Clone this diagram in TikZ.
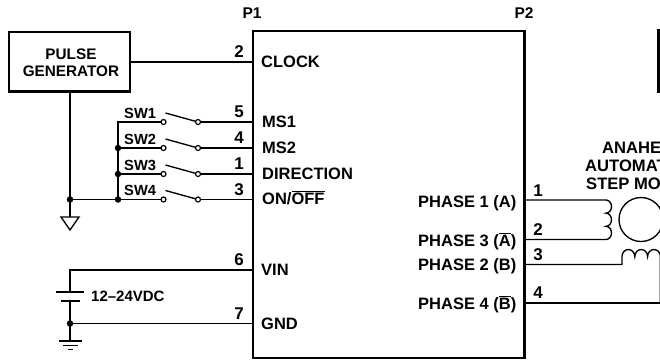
\documentclass[tikz,border=0pt]{standalone}
\usepackage{fontspec}
\setmainfont{Liberation Sans}
\newcommand{\ovl}[1]{$\overline{\hbox{#1}}$}
\begin{document}
\begin{tikzpicture}[x=1pt,y=-1pt,
  wire/.style={line width=1.35pt},
  heavy/.style={draw,line width=2.6pt,outer sep=0pt,inner sep=0pt},
  lab/.style={font=\bfseries\fontsize{16.5}{18}\selectfont,inner sep=0pt,anchor=base west},
  labr/.style={font=\bfseries\fontsize{16.5}{18}\selectfont,inner sep=0pt,anchor=base east},
  motl/.style={font=\bfseries\fontsize{16.6}{18}\selectfont,inner sep=0pt,anchor=base west},
  pin/.style={font=\bfseries\fontsize{17}{19}\selectfont,inner sep=0pt,anchor=base},
  ptl/.style={font=\bfseries\fontsize{15.5}{17}\selectfont,inner sep=0pt,anchor=base},
  swl/.style={font=\bfseries\fontsize{14.7}{16}\selectfont,inner sep=0pt,anchor=base west},
  jdot/.style={circle,fill=black,draw=none,minimum size=6.5pt,inner sep=0pt},
  contact/.style={circle,fill=white,draw=black,line width=1.2pt,minimum size=5pt,inner sep=0pt,outer sep=0pt}]
\useasboundingbox (0,0) rectangle (660,360);
\clip (0,0) rectangle (660,360);
% blocks
\node[heavy,minimum width=121pt,minimum height=59.5pt] (gen) at (69.5,61.75) {};
\node[font=\bfseries\fontsize{15.3}{16.7}\selectfont,align=center,inner sep=0pt] (gentxt) at (71,63) {PULSE\\GENERATOR};
\node[heavy,minimum width=271.5pt,minimum height=327pt] (drv) at (388.75,194.5) {};
\node[ptl] (p1) at (252,18) {P1};
\node[ptl] (p2) at (524,18) {P2};
% switch section
\coordinate (clkR) at (gen.east |- 0,62);
\draw[wire] (clkR) -- (drv.west |- clkR);
\foreach \n/\y in {a/122,b/148,c/174,d/199.5}{
  \coordinate (r\n) at (drv.west |- 0,\y);
  \node[contact] (m\n) at (198,\y) {};
  \node[contact] (l\n) at (163.5,\y) {};
  \coordinate (bus\n) at (118,\y);
  \draw[wire] (l\n) -- (bus\n);
  \draw[wire] (m\n) -- (r\n);
  \coordinate (bl\n) at (165.5,\y-9);
  \draw[wire] (bl\n) -- (m\n);
}
\draw[wire] (busa) ++(0,-0.6) -- (busd);
\coordinate (gj) at (70,199.5);
\coordinate (gt) at (70,217);
\draw[wire] (gen.south -| gj) -- (gt);
\draw[wire] (gj) -- (busd);
\node[jdot] (d1) at (busb) {};
\node[jdot] (d2) at (busc) {};
\node[jdot] (d3) at (busd) {};
\node[jdot] (d4) at (gj) {};
\coordinate (t1) at (61,217); \coordinate (t2) at (79,217); \coordinate (t3) at (70,230);
\draw[wire] (t1) -- (t2) -- (t3) -- cycle;
% pin numbers, left
\node[pin] (n2) at (239,57) {2};
\node[pin] (n5) at (239,117.5) {5};
\node[pin] (n4) at (239,143.5) {4};
\node[pin] (n1) at (239,169) {1};
\node[pin] (n3) at (239,195) {3};
\node[pin] (n6) at (239,265.5) {6};
\node[pin] (n7) at (239,319) {7};
\node[swl] (sa) at (124,118) {SW1};
\node[swl] (sb) at (124,144) {SW2};
\node[swl] (sc) at (124,170) {SW3};
\node[swl] (sd) at (124,195) {SW4};
% inside left
\node[lab] (tclk) at (261,67.5) {CLOCK};
\node[lab] (tms1) at (262,127.5) {MS1};
\node[lab] (tms2) at (262,153.5) {MS2};
\node[lab] (tdir) at (262,179) {DIRECTION};
\node[lab] (ton) at (262,204.5) {ON/\ovl{OFF}};
\node[lab] (tvin) at (261,275.5) {VIN};
\node[lab] (tgnd) at (261,329) {GND};
% inside right
\node[labr] (ta) at (516.5,207.5) {PHASE 1 (A)};
\node[labr] (tc) at (516.5,246) {PHASE 3 (\ovl{A})};
\node[labr] (tb) at (516.5,270) {PHASE 2 (B)};
\node[labr] (td) at (516.5,309) {PHASE 4 (\ovl{B})};
% supply
\coordinate (bt) at (70,270);
\coordinate (bg) at (70,323.5);
\coordinate (pl) at (70,292);
\coordinate (ps) at (70,301);
\coordinate (g1) at (70,341);
\draw[wire] (drv.west |- bt) -- (bt) -- (pl);
\draw[line width=2.2pt] (56,292) -- (84,292);
\draw[line width=1.5pt] (61,301) -- (79.5,301);
\draw[wire] (ps) -- (g1);
\draw[wire] (bg) -- (drv.west |- bg);
\node[jdot] (d5) at (bg) {};
\draw[line width=1.3pt] (59,341) -- (82,341);
\draw[line width=1.2pt] (63,345.3) -- (77.5,345.3);
\draw[line width=1.2pt] (67.5,349.6) -- (73,349.6);
\node[font=\bfseries\fontsize{15}{17}\selectfont,inner sep=0pt,anchor=base west] (vdc) at (91,301) {12--24VDC};
% motor
\node[pin] (o1) at (538,196.5) {1};
\node[pin] (o2) at (538,235) {2};
\node[pin] (o3) at (538,260) {3};
\node[pin] (o4) at (538,298) {4};
\coordinate (oa) at (drv.east |- 0,200);
\coordinate (ob) at (drv.east |- 0,239.5);
\coordinate (oc) at (drv.east |- 0,264.5);
\coordinate (od) at (drv.east |- 0,303);
\draw[wire] (oa) -- (606,200) arc (-90:90:5.5 and 6.583) arc (-90:90:5.5 and 6.583) arc (-90:90:5.5 and 6.583) -- (ob);
\draw[wire] (oc) -- (622,264.5) -- (622,256.5) arc (180:360:6.4 and 7) arc (180:360:6.4 and 7) arc (180:360:6.4 and 7) -- (660.4,303);
\draw[wire] (od) -- (660,303);
\node[draw,line width=1.35pt,circle,minimum size=44pt,inner sep=0pt,outer sep=0pt] (rotor) at (641,219.5) {};
\coordinate (bx1) at (658.6,30);
\coordinate (bx2) at (658.6,91.5);
\draw[line width=2.8pt] (661,30) -- (bx1) -- (bx2) -- (661,91.5);
\node[motl] (m1) at (602,153.5) {ANAHE};
\node[motl] (m2) at (585,171) {AUTOMAT};
\node[motl] (m3) at (586,189.5) {STEP MO};
\end{tikzpicture}
\end{document}
